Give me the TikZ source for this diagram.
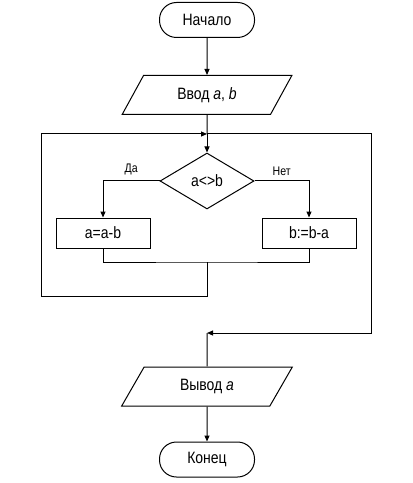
\documentclass[tikz,border=0pt]{standalone}
\usepackage{fontspec}
\setmainfont{Liberation Sans}[FakeStretch=0.85]
\usepackage{tikz}
\usetikzlibrary{arrows.meta,shapes.geometric,calc,positioning}

\begin{document}
\begin{tikzpicture}[
        x=1bp, y=-1bp,
        line width=1bp,
        font=\fontsize{16.5}{18}\selectfont,
        term/.style={draw, rectangle, rounded corners=17bp, minimum width=95bp, minimum height=35bp},
        io/.style={draw, trapezium, trapezium left angle=63, trapezium right angle=117, trapezium stretches=true, minimum width=171bp, minimum height=39bp},
        proc/.style={draw, rectangle, minimum width=94bp, minimum height=30bp},
        cond/.style={draw, diamond, aspect=1.7, inner sep=0pt, minimum width=94bp, minimum height=56bp},
        lbl/.style={font=\fontsize{12.5}{14}\selectfont},
        arrow/.style={-{Triangle[length=6bp, width=5bp]}}
    ]
        \useasboundingbox (0,0) rectangle (412,483);
        \node[term] (start) at (207,20) {Начало};
        \node[io] (in) at (207,95) {Ввод \textit{a}, \textit{b}};
        \coordinate (j1) at (207,134);
        \node[cond] (test) at (207,181) {a<>b};
        \node[proc] (ya) at (103,233) {a=a-b};
        \node[proc] (nb) at (309,233) {b:=b-a};
        \coordinate (j2) at (207,262);
        \coordinate (lp) at (41,296);
        \coordinate (rp) at (371,333);
        \coordinate (j3) at (207,333);
        \node[io] (out) at (207,386.5) {Вывод \textit{a}};
        \node[term] (end) at (207,459.5) {Конец};
        \draw[arrow] (start) -- (in);
        \draw (in) -- (j1);
        \draw[arrow] (j1) -- (test);
        \draw[arrow] (test.west) -| node[lbl, pos=0.25, above=2bp] {Да} (ya);
        \draw[arrow] (test.east) -| node[lbl, pos=0.25, above=2bp] {Нет} (nb);
        \draw (ya) |- (j2) -| (nb);
        \draw[arrow] (j2) |- (lp) |- (j1);
        \draw[arrow] (j1) -| (rp) -- (j3);
        \draw (j3) -- (out);
        \draw[arrow] (out) -- (end);
    \end{tikzpicture}
\end{document}
